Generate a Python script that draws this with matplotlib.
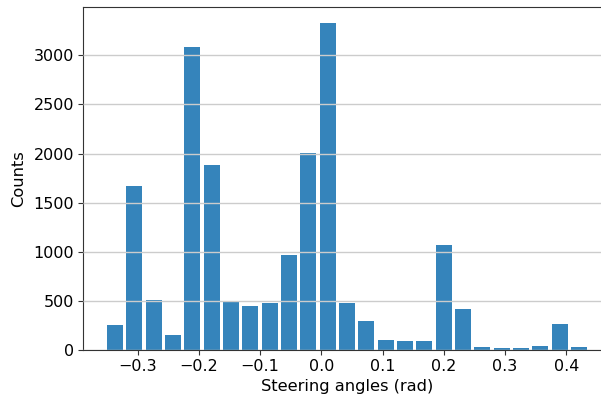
import matplotlib.pyplot as plt
import numpy as np

# histogram of steering angles (25 bins), counts
bin_lo = -0.3529
bin_hi = 0.4366
counts = [254, 1668, 508, 153, 3085, 1880, 488, 447, 478, 966, 2010, 3325, 478,
          295, 102, 92, 92, 1068, 417, 31, 20, 20, 41, 264, 31]

edges = np.linspace(bin_lo, bin_hi, len(counts) + 1)
centers = (edges[:-1] + edges[1:]) / 2

fig = plt.figure(figsize=(6.01, 3.97), dpi=100)
ax = fig.add_axes([83 / 601, 47 / 397, 528 / 601, 343 / 397])

ax.hist(centers, bins=edges, weights=counts, rwidth=0.82,
        color='#1f77b4', alpha=0.9)

ax.grid(axis='y', color='#cccccc', linewidth=1)
ax.set_axisbelow(False)

ax.set_xlabel('Steering angles (rad)', fontsize=11.7, labelpad=3.5)
ax.set_ylabel('Counts', fontsize=11.7, labelpad=5)
ax.tick_params(labelsize=11.5, color='#333333', pad=3)
for s in ax.spines.values():
    s.set_color('#333333')

fig.savefig('out.png', dpi=100)
